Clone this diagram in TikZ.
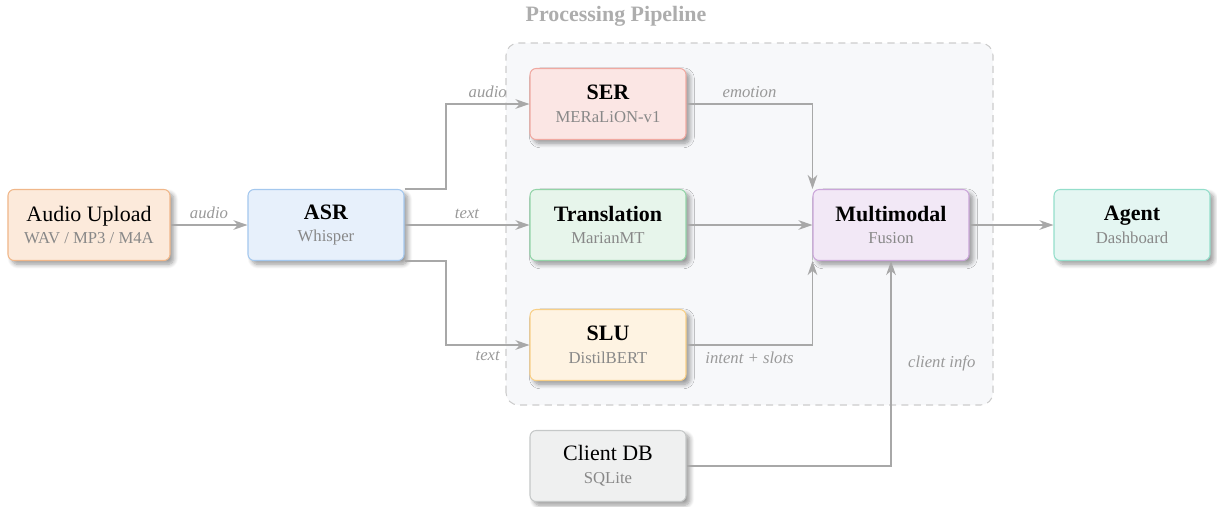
\documentclass[tikz,border=0pt]{standalone}
\usepackage{fontspec}
\setmainfont{Liberation Serif}
\usepackage{tikz}
\usetikzlibrary{calc,positioning,arrows.meta,shadows.blur}
\usepackage{xcolor}
\definecolor{audiofill}{HTML}{FCEADB}
\definecolor{audioline}{HTML}{F0B78A}
\definecolor{asrfill}{HTML}{E7F0FB}
\definecolor{asrline}{HTML}{A4C8EE}
\definecolor{serfill}{HTML}{FBE6E4}
\definecolor{serline}{HTML}{F0A9A1}
\definecolor{trfill}{HTML}{E7F5EB}
\definecolor{trline}{HTML}{93D4A8}
\definecolor{slufill}{HTML}{FEF3E2}
\definecolor{sluline}{HTML}{F8CF86}
\definecolor{dbfill}{HTML}{EFF0F0}
\definecolor{dbline}{HTML}{C5C8C8}
\definecolor{mmfill}{HTML}{F2E8F6}
\definecolor{mmline}{HTML}{CBA6DA}
\definecolor{agfill}{HTML}{E4F6F2}
\definecolor{agline}{HTML}{94DECB}
\definecolor{pipefill}{HTML}{F7F8FA}
\definecolor{pipeline}{HTML}{CCCCCC}
\definecolor{flowgray}{HTML}{A8A8A8}
\definecolor{subgray}{HTML}{888888}
\definecolor{labelgray}{HTML}{999999}
\newcommand{\subline}[1]{{\rmfamily\fontsize{9.5}{11}\selectfont\color{subgray}#1}}

\begin{document}
\begin{tikzpicture}[
  box/.style={draw, rounded corners=3.5pt, line width=0.6pt, align=center,
    minimum width=3.12cm, minimum height=1.42cm, inner sep=0pt,
    font=\rmfamily\fontsize{12.5}{13}\selectfont,
    blur shadow={shadow xshift=2.2pt, shadow yshift=-2.2pt, shadow blur radius=2.5pt, shadow blur steps=8, shadow opacity=40}},
  flow/.style={draw=flowgray, line width=0.8pt, -{Stealth[length=8pt,width=5.5pt,inset=2.5pt]}},
  lbl/.style={text=labelgray, font=\rmfamily\itshape\fontsize{9.5}{11}\selectfont}]
  \useasboundingbox (0,0) rectangle (24.34,10.12);
  % pipeline frame
  \draw[pipeline, dash pattern=on 4pt off 3pt, fill=pipefill, rounded corners=7pt, line width=0.6pt]
    (10.12,2.02) rectangle (19.86,9.26);
  \node[text=pipeline!85!black, font=\rmfamily\bfseries\fontsize{12.5}{13}\selectfont] (title) at (12.32,9.80) {Processing Pipeline};
  % nodes
  \node[box, fill=audiofill, draw=audioline, minimum width=3.24cm] (audio) at (1.78,5.62) {Audio Upload\\\subline{WAV / MP3 / M4A}};
  \node[box, fill=asrfill, draw=asrline] (asr) at (6.52,5.62) {\textbf{ASR}\\\subline{Whisper}};
  \node[box, fill=serfill, draw=serline] (ser) at (12.16,8.04) {\textbf{SER}\\\subline{MERaLiON-v1}};
  \node[box, fill=trfill, draw=trline] (trans) at (12.16,5.62) {\textbf{Translation}\\\subline{MarianMT}};
  \node[box, fill=slufill, draw=sluline] (slu) at (12.16,3.22) {\textbf{SLU}\\\subline{DistilBERT}};
  \node[box, fill=dbfill, draw=dbline] (db) at (12.16,0.80) {Client DB\\\subline{SQLite}};
  \node[box, fill=mmfill, draw=mmline] (fusion) at (17.82,5.62) {\textbf{Multimodal}\\\subline{Fusion}};
  \node[box, fill=agfill, draw=agline] (agent) at (22.64,5.62) {\textbf{Agent}\\\subline{Dashboard}};
  \coordinate (split) at (8.92,5.62);
  % connectors
  \draw[flow] (audio) -- (asr) node[midway, above, lbl] {audio};
  \draw[flow] (asr.north east) -- (asr.north east -| split) |- (ser) node[pos=0.75, above, lbl] {audio};
  \draw[flow] (asr) -- (trans) node[midway, above, lbl] {text};
  \draw[flow] (asr.south east) -- (asr.south east -| split) |- (slu) node[pos=0.75, below, lbl] {text};
  \draw[flow] (ser) -| (fusion.north west) node[pos=0.25, above, lbl] {emotion};
  \draw[flow] (trans) -- (fusion);
  \draw[flow] (slu) -| (fusion.south west) node[pos=0.25, below, lbl] {intent + slots};
  \draw[flow] (db) -| (fusion) node[pos=0.75, right=6pt, lbl] {client info};
  \draw[flow] (fusion) -- (agent);
\end{tikzpicture}
\end{document}
